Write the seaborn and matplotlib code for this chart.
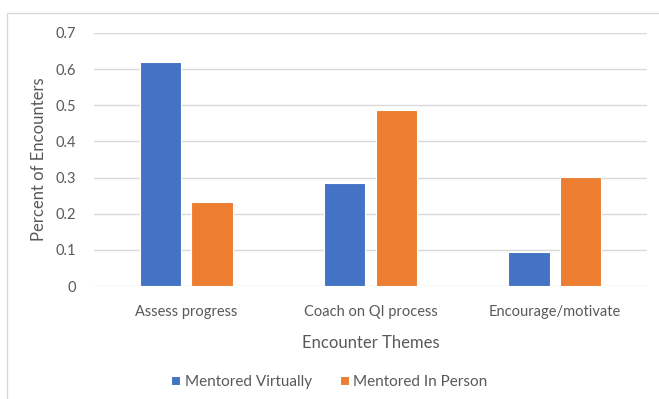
import matplotlib
matplotlib.use("Agg")
import matplotlib.pyplot as plt
from matplotlib.patches import Rectangle
import seaborn as sns
import pandas as pd

themes = ["Assess progress", "Coach on QI process", "Encourage/motivate"]
virtual = [0.619, 0.286, 0.095]
in_person = [0.232, 0.488, 0.302]
series = ["Mentored Virtually", "Mentored In Person"]
yticks = [0, 0.1, 0.2, 0.3, 0.4, 0.5, 0.6, 0.7]

df = pd.DataFrame({
    "theme": themes * 2,
    "value": virtual + in_person,
    "series": [series[0]] * 3 + [series[1]] * 3,
})

sns.set_theme(style="white")
plt.rcParams["font.family"] = ["Lato", "DejaVu Sans"]
text_color = "#595959"
grid_color = "#D9D9D9"

fig = plt.figure(figsize=(6.59, 3.99), dpi=100)
ax = fig.add_axes([94 / 659, 1 - 286 / 399, (647 - 94) / 659, (286 - 33) / 399])

sns.barplot(data=df, x="theme", y="value", hue="series", order=themes,
            hue_order=series, palette=["#4472C4", "#ED7D31"], saturation=1,
            width=0.56, gap=0.2, ax=ax, legend=True, linewidth=0.8,
            edgecolor="white")

ax.set_ylim(0, 0.7)
ax.set_yticks(yticks)
ax.set_yticklabels([f"{t:g}" for t in yticks])
ax.set_xlim(-0.5, 2.5)
ax.yaxis.grid(True, color=grid_color, linewidth=1.0)
ax.set_axisbelow(True)
for s in ax.spines.values():
    s.set_visible(False)
ax.tick_params(axis="both", length=0, colors=text_color, labelsize=10.5)
ax.tick_params(axis="y", pad=13)
ax.tick_params(axis="x", pad=14)

ax.set_xlabel("Encounter Themes", fontsize=12, color=text_color, labelpad=11)
ax.set_ylabel("Percent of Encounters", fontsize=12, color=text_color, labelpad=6)

leg = ax.legend(loc="center", bbox_to_anchor=(0.5, 1 - 382 / 399),
                bbox_transform=fig.transFigure, ncol=2, frameon=False,
                fontsize=11, handlelength=0.6, handleheight=0.6,
                handletextpad=0.3, columnspacing=1.8)
for t in leg.get_texts():
    t.set_color(text_color)

fig.patches.append(Rectangle((7 / 659, -0.05), 1.0, 1 - 13 / 399 + 0.05,
                             transform=fig.transFigure, fill=False,
                             edgecolor=grid_color, linewidth=1.0))

fig.savefig("out.png", dpi=100)
